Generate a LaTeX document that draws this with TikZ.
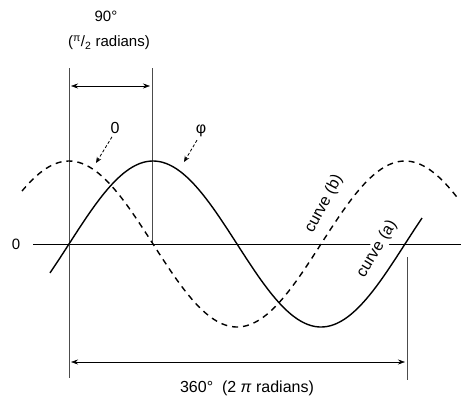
\documentclass[tikz,border=0pt]{standalone}
\usepackage{fontspec}
\setmainfont{Liberation Sans}
\usetikzlibrary{arrows.meta}
\begin{document}
\begin{tikzpicture}[x=1pt,y=-1pt,
  lbl/.style={font=\fontsize{15}{17}\selectfont, inner sep=1pt},
  biglbl/.style={font=\fontsize{16}{18}\selectfont, inner sep=1pt},
  wave/.style={line width=1.4pt},
  dwave/.style={line width=1.4pt, dash pattern=on 6pt off 5pt},
  guide/.style={line width=0.6pt, black!70},
  dim/.style={line width=0.6pt, {Stealth[length=7pt,width=5pt]}-{Stealth[length=7pt,width=5pt]}},
  ptr/.style={line width=0.8pt, dash pattern=on 3pt off 2pt, -{Stealth[length=6pt,width=5pt]}}]
\useasboundingbox (0,0) rectangle (461,402);
% axis
\coordinate (axL) at (33,244);
\coordinate (axR) at (461,244);
\draw[line width=0.9pt] (axL) -- (axR);
\node[lbl] (zero) at (16,244) {0};
% guide lines
\coordinate (g1t) at (69,68);
\coordinate (g1b) at (69,378);
\coordinate (g2t) at (152,68);
\coordinate (g2b) at (152,244);
\coordinate (g3t) at (407,257);
\coordinate (g3b) at (407,380);
\draw[guide] (g1t) -- (g1b);
\draw[guide] (g2t) -- (g2b);
\draw[guide] (g3t) -- (g3b);
% dimension arrows
\coordinate (d1a) at (71,86);
\coordinate (d1b) at (150,86);
\draw[dim] (d1a) -- (d1b);
\coordinate (d2a) at (71,362);
\coordinate (d2b) at (405,362);
\draw[dim] (d2a) -- (d2b);
% waves
\draw[dwave] plot[domain=22:458, samples=160, smooth] (\x, {244-83*cos(((\x-69)/336)*360)});
\draw[wave] plot[domain=50:422, samples=160, smooth] (\x, {244-83*sin(((\x-69)/336)*360)});
% labels
\node[lbl] (t90) at (106,16) {90°};
\node[lbl] (trad) at (109,43) {(\textsuperscript{π}/\textsubscript{2} radians)};
\node[biglbl] (t360) at (247,388) {360°\ \ (2 \textit{π} radians)};
\node[biglbl] (q) at (115,128) {0};
\node[biglbl] (p) at (201,131) {φ};
\coordinate (qtip) at (96,163);
\coordinate (ptip) at (184,162);
\draw[ptr] (q.south) ++(-3,2) -- (qtip);
\draw[ptr] (p.south) ++(-4,2) -- (ptip);
\node[biglbl, rotate=62] (cb) at (324,204) {curve (b)};
\node[biglbl, rotate=59, fill=white, inner sep=0.5pt] (ca) at (377,249) {curve (a)};
\end{tikzpicture}
\end{document}
